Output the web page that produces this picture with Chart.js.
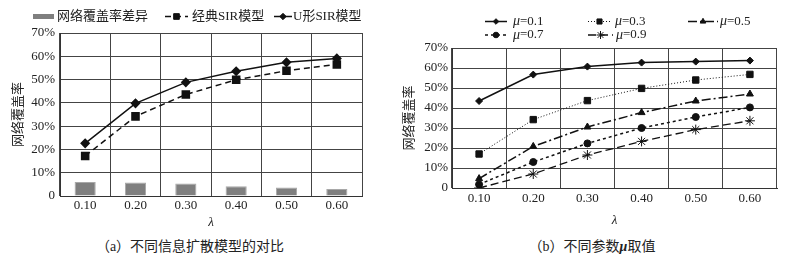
<!DOCTYPE html>
<html>
<head>
<meta charset="utf-8">
<script src="https://cdn.jsdelivr.net/npm/chart.js@4/dist/chart.umd.min.js"></script>
<style>
    body { margin: 0; background: #fff; width: 802px; height: 261px; position: relative; overflow: hidden; }
    .box { position: absolute; top: 0; height: 230px; }
    .caption {
        position: absolute; top: 237px; line-height: 20px; font-size: 14px; color: #222;
        font-family: "Liberation Serif", "Noto Sans CJK SC", serif; white-space: nowrap;
        transform: translateX(-50%);
    }
</style>
</head>
<body>
<div class="box" style="left:0;width:400px;"><canvas id="chartA"></canvas></div>
<div class="box" style="left:400px;width:402px;"><canvas id="chartB"></canvas></div>
<div class="caption" style="left:190px;">（a）不同信息扩散模型的对比</div>
<div class="caption" style="left:592px;">（b）不同参数<b><i>μ</i></b>取值</div>
<script>
const lambdas = ['0.10', '0.20', '0.30', '0.40', '0.50', '0.60'];

// chart (a)
const coverageDiff = [6.0, 5.8, 5.4, 4.2, 3.6, 3.0];
const classicSIR = [17.2, 34.2, 43.6, 49.9, 53.8, 56.5];
const uShapeSIR = [22.6, 39.8, 48.8, 53.6, 57.4, 59.1];

// chart (b)
const mu01 = [43.5, 56.7, 60.7, 62.7, 63.2, 63.7];
const mu03 = [17.0, 34.2, 43.7, 49.8, 54.0, 56.8];
const mu05 = [4.7, 20.8, 30.5, 37.7, 43.5, 47.0];
const mu07 = [1.8, 13.0, 22.3, 30.0, 35.5, 40.3];
const mu09 = [0.0, 7.0, 16.5, 23.3, 29.2, 33.6];

const yMin = 0, yMax = 70, yStep = 10;

const serif = '"Liberation Serif", "Noto Sans CJK SC", serif';
Chart.defaults.font.family = serif;
Chart.defaults.font.size = 13;
Chart.defaults.color = '#222';

// legend drawn on the canvas: line sample + marker + text
const sampleLegend = {
    id: 'sampleLegend',
    afterDraw(chart, args, opts) {
        const ctx = chart.ctx;
        ctx.save();
        opts.items.forEach(it => {
            const ds = chart.data.datasets[it.index];
            if (it.kind === 'bar') {
                ctx.fillStyle = ds.backgroundColor;
                ctx.fillRect(it.x, it.y - 2.5, it.len, 5);
            } else {
                ctx.strokeStyle = ds.borderColor;
                ctx.lineWidth = ds.borderWidth;
                ctx.setLineDash(ds.borderDash || []);
                ctx.beginPath();
                ctx.moveTo(it.x, it.y);
                ctx.lineTo(it.x + it.len, it.y);
                ctx.stroke();
                ctx.setLineDash([]);
                ctx.fillStyle = ds.pointBackgroundColor;
                ctx.strokeStyle = ds.pointBorderColor;
                ctx.lineWidth = 1;
                Chart.helpers.drawPoint(ctx, {
                    pointStyle: ds.pointStyle,
                    radius: ds.pointRadius * 0.8,
                    borderWidth: 1,
                    rotation: 0
                }, it.x + it.len / 2, it.y);
            }
            let tx = it.x + it.len + (it.gap || 3);
            ctx.fillStyle = '#222';
            ctx.textBaseline = 'middle';
            let label = ds.label;
            if (label.startsWith('μ')) {
                ctx.font = 'italic 14px ' + serif;
                ctx.fillText('μ', tx, it.y);
                tx += ctx.measureText('μ').width;
                label = label.slice(1);
            }
            ctx.font = '13px ' + serif;
            ctx.fillText(label, tx, it.y);
        });
        ctx.restore();
    }
};

function yScale(width, titlePad, tickPad) {
    return {
        min: yMin,
        max: yMax,
        ticks: {
            stepSize: yStep,
            padding: tickPad,
            callback: v => v === 0 ? '0' : v + '%'
        },
        grid: { color: '#444', drawTicks: false },
        border: { color: '#333' },
        title: { display: true, text: '网络覆盖率', padding: { top: titlePad, bottom: 0 }, font: { size: 13 } },
        afterFit: s => { s.width = width; }
    };
}

function xScale(height, tickPad, titlePad) {
    return {
        offset: true,
        ticks: { padding: tickPad },
        grid: { offset: true, color: '#444', drawTicks: false },
        border: { color: '#333' },
        title: { display: true, text: 'λ', padding: { top: 0, bottom: titlePad }, font: { size: 13, style: 'italic' } },
        afterFit: s => { s.height = height; }
    };
}

new Chart(document.getElementById('chartA'), {
    type: 'bar',
    data: {
        labels: lambdas,
        datasets: [
            {
                label: '网络覆盖率差异',
                data: coverageDiff,
                backgroundColor: '#7f7f7f',
                borderColor: '#a8a8a8',
                borderWidth: 1,
                barPercentage: 0.42,
                categoryPercentage: 1,
                order: 2
            },
            {
                type: 'line',
                label: '经典SIR模型',
                data: classicSIR,
                borderColor: '#111',
                borderWidth: 1.5,
                borderDash: [6, 4],
                pointStyle: 'rect',
                pointRadius: 5,
                pointBackgroundColor: '#111',
                pointBorderColor: '#111',
                order: 1
            },
            {
                type: 'line',
                label: 'U形SIR模型',
                data: uShapeSIR,
                borderColor: '#111',
                borderWidth: 1.5,
                pointStyle: 'rectRot',
                pointRadius: 4,
                pointBackgroundColor: '#111',
                pointBorderColor: '#111',
                order: 0
            }
        ]
    },
    options: {
        responsive: true,
        maintainAspectRatio: false,
        animation: false,
        layout: { padding: { left: 0, right: 38, top: 33, bottom: 0 } },
        scales: { x: xScale(34, 2, 0), y: yScale(60, 11, 5) },
        plugins: {
            legend: { display: false },
            tooltip: { enabled: false },
            sampleLegend: {
                items: [
                    { index: 0, kind: 'bar', x: 33, y: 16.5, len: 21, gap: 3 },
                    { index: 1, kind: 'line', x: 165, y: 16.5, len: 23, gap: 4 },
                    { index: 2, kind: 'line', x: 274, y: 16.5, len: 18, gap: 1 }
                ]
            }
        }
    },
    plugins: [sampleLegend]
});

function muLine(label, data, style, radius, dash, width) {
    return {
        label: label,
        data: data,
        borderColor: '#111',
        borderWidth: width,
        borderDash: dash,
        pointStyle: style,
        pointRadius: radius,
        pointBorderWidth: 1,
        pointBackgroundColor: '#111',
        pointBorderColor: '#111'
    };
}

new Chart(document.getElementById('chartB'), {
    type: 'line',
    data: {
        labels: lambdas,
        datasets: [
            muLine('μ=0.1', mu01, 'rectRot', 3.5, [], 1.5),
            muLine('μ=0.3', mu03, 'rect', 4.5, [1, 2], 1),
            muLine('μ=0.5', mu05, 'triangle', 4, [9, 3, 2, 3], 1.5),
            muLine('μ=0.7', mu07, 'circle', 3.5, [3, 3], 1.5),
            muLine('μ=0.9', mu09, 'star', 5, [8, 4], 1.3)
        ]
    },
    options: {
        responsive: true,
        maintainAspectRatio: false,
        animation: false,
        layout: { padding: { left: 0, right: 25, top: 48, bottom: 0 } },
        scales: { x: xScale(42, 3, 2), y: yScale(52, 2, 4) },
        plugins: {
            legend: { display: false },
            tooltip: { enabled: false },
            sampleLegend: {
                items: [
                    { index: 0, kind: 'line', x: 85, y: 21.5, len: 22, gap: 6 },
                    { index: 1, kind: 'line', x: 188, y: 21.5, len: 23, gap: 4 },
                    { index: 2, kind: 'line', x: 288, y: 21.5, len: 30, gap: 2 },
                    { index: 3, kind: 'line', x: 85, y: 35, len: 22, gap: 6 },
                    { index: 4, kind: 'line', x: 188, y: 35, len: 25, gap: 3 }
                ]
            }
        }
    },
    plugins: [sampleLegend]
});
</script>
</body>
</html>
